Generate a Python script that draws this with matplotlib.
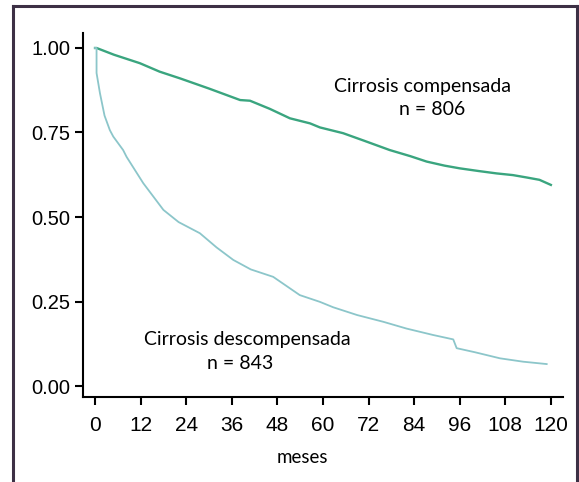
import matplotlib.pyplot as plt
import matplotlib.lines as mlines

# Supervivencia (Kaplan-Meier)
meses_comp = [0, 0.4, 5, 11.8, 17, 22.4, 30, 38.2, 40.8, 46, 51.3, 56.6, 59.2, 65.3,
              71, 77.6, 83, 87.3, 92, 96, 101, 105.7, 110, 113.6, 117, 120]
surv_comp = [1.0, 1.0, 0.98, 0.955, 0.93, 0.91, 0.88, 0.846, 0.844, 0.82, 0.792, 0.777,
             0.765, 0.748, 0.725, 0.698, 0.68, 0.664, 0.652, 0.644, 0.636, 0.629, 0.624,
             0.617, 0.61, 0.595]

meses_desc = [0, 0.4, 0.4, 1.3, 2.5, 3.9, 4.8, 7.4, 8.3, 12.7, 18, 22, 27.6, 32, 36.4,
              41, 46.9, 53.9, 59.2, 62.7, 69, 75.9, 82, 89, 94.3, 95.2, 100, 106.6,
              112.7, 118.9]
surv_desc = [1.0, 1.0, 0.926, 0.866, 0.8, 0.757, 0.738, 0.698, 0.678, 0.6, 0.521, 0.485,
             0.452, 0.41, 0.373, 0.345, 0.323, 0.269, 0.249, 0.233, 0.21, 0.19, 0.17,
             0.151, 0.138, 0.112, 0.1, 0.082, 0.072, 0.065]

xticks = [0, 12, 24, 36, 48, 60, 72, 84, 96, 108, 120]
yticks = [0.0, 0.25, 0.5, 0.75, 1.0]
ytick_labels = ['0.00', '0.25', '0.50', '0.75', '1.00']

fig = plt.figure(figsize=(5.79, 4.82), dpi=100)
ax = fig.add_axes([0.1434, 0.1763, 0.829, 0.755])

ax.plot(meses_comp, surv_comp, color='#3aa57f', lw=1.7)
ax.plot(meses_desc, surv_desc, color='#8cc6ca', lw=1.3)

ax.set_xlim(-3.16, 123.2)
ax.set_ylim(-0.0325, 1.044)
ax.set_xticks(xticks)
ax.set_xticklabels([str(t) for t in xticks], family='Liberation Sans', fontsize=15)
ax.set_yticks(yticks)
ax.set_yticklabels(ytick_labels, family='Liberation Sans', fontsize=14.5)
for s in ['top', 'right']:
    ax.spines[s].set_visible(False)
for s in ['left', 'bottom']:
    ax.spines[s].set_linewidth(1.5)
ax.tick_params(direction='out', length=6, width=1.5)
ax.tick_params(axis='x', pad=8)
ax.tick_params(axis='y', pad=3)

ax.text(0.458, -0.165, 'meses', transform=ax.transAxes,
        ha='center', va='center', family='Lato', fontsize=13.5)

ax.text(0.708, 0.852, 'Cirrosis compensada', transform=ax.transAxes,
        ha='center', va='center', family='Lato', fontsize=14)
ax.text(0.727, 0.791, 'n = 806', transform=ax.transAxes,
        ha='center', va='center', family='Lato', fontsize=14)
ax.text(0.342, 0.157, 'Cirrosis descompensada', transform=ax.transAxes,
        ha='center', va='center', family='Lato', fontsize=14)
ax.text(0.327, 0.093, 'n = 843', transform=ax.transAxes,
        ha='center', va='center', family='Lato', fontsize=14)

# marco exterior
border = '#3d3045'
xl, xr, yt = 12.5 / 579, 576.5 / 579, 1 - 6 / 482
fig.add_artist(mlines.Line2D([xl, xl], [0, yt], color=border, lw=2.2))
fig.add_artist(mlines.Line2D([xr, xr], [0, yt], color=border, lw=2.2))
fig.add_artist(mlines.Line2D([xl, xr], [yt, yt], color=border, lw=2.2))

fig.savefig('out.png', dpi=100)
